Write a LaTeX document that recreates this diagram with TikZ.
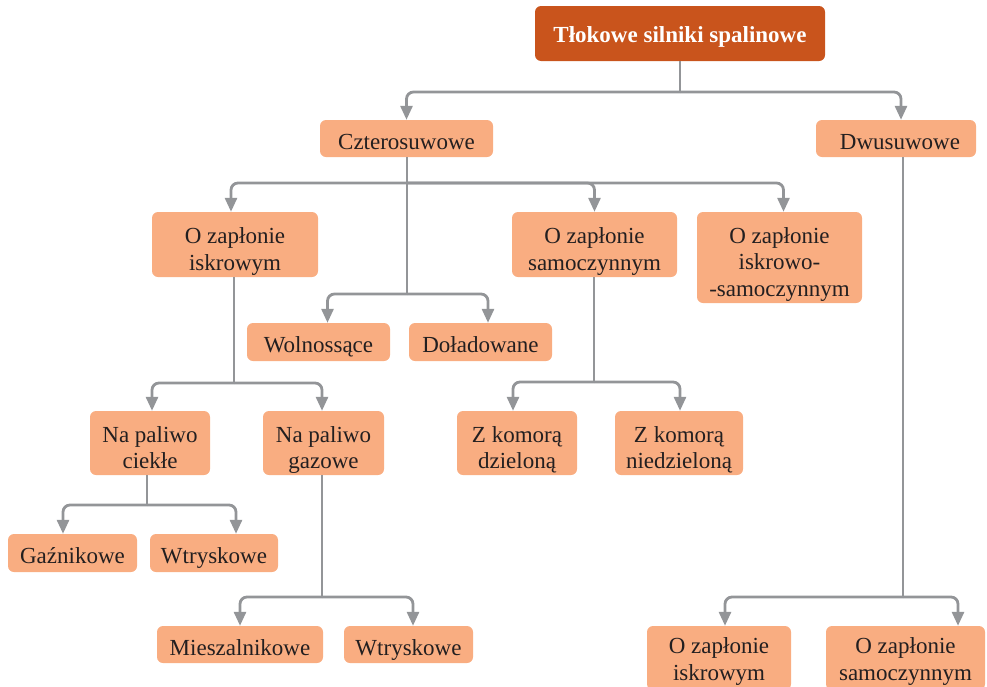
\documentclass[tikz,border=0pt]{standalone}
\usepackage{fontspec}
\setmainfont{Liberation Serif}
\usetikzlibrary{arrows.meta}
\definecolor{boxfill}{RGB}{249,173,129}
\definecolor{rootfill}{RGB}{201,84,28}
\definecolor{txt}{RGB}{35,31,32}
\definecolor{conn}{RGB}{147,149,152}
\newcommand{\boxlines}[1]{\begin{tabular}[b]{@{}c@{}}#1\end{tabular}}
\tikzset{
  box/.style={draw=none, fill=boxfill, rounded corners=6pt, text=txt,
    font=\fontsize{23}{26.5}\selectfont, inner sep=0pt, text depth=0pt},
  oneline/.style={box, text height=21pt},
  twolines/.style={box, text height=51pt},
  bottomlines/.style={box, text height=44pt},
  threelines/.style={box, text height=77pt},
  rootbox/.style={draw=none, fill=rootfill, rounded corners=6pt, text=white,
    font=\fontsize{23}{27}\selectfont\bfseries, inner sep=0pt, text depth=0pt, text height=18.4pt},
  line/.style={draw=conn, line width=2.8pt},
  arr/.style={draw=conn, line width=2.8pt, rounded corners=7pt,
    -{Triangle[length=14pt,width=12pt]}}
}
\begin{document}
\begin{tikzpicture}[x=1pt,y=-1pt]
\useasboundingbox (0,0) rectangle (987,686);
\clip (0,0) rectangle (987,686);
% nodes
\node[rootbox, minimum width=290pt, minimum height=55pt] (root) at (680,33.5) {Tłokowe silniki spalinowe};
\node[oneline, minimum width=173pt, minimum height=37pt] (cz) at (406.5,138.5) {Czterosuwowe};
\node[oneline, minimum width=160pt, minimum height=37pt] (dw) at (896,138.5) {\hspace*{8pt}Dwusuwowe};
\node[twolines, minimum width=166pt, minimum height=65pt] (oi) at (235,244.5) {\boxlines{O zapłonie\\iskrowym}};
\node[twolines, minimum width=165pt, minimum height=65pt] (os) at (594.5,244.5) {\boxlines{O zapłonie\\samoczynnym}};
\node[threelines, minimum width=165pt, minimum height=91pt] (ois) at (779.5,257.5) {\boxlines{O zapłonie\\iskrowo-\\-samoczynnym}};
\node[oneline, minimum width=143pt, minimum height=38pt] (wo) at (318.5,342) {Wolnossące};
\node[oneline, minimum width=143pt, minimum height=38pt] (do) at (480.5,342) {Doładowane};
\node[twolines, minimum width=120pt, minimum height=64pt] (npc) at (150,443) {\boxlines{Na paliwo\\ciekłe}};
\node[twolines, minimum width=121pt, minimum height=64pt] (npg) at (323.5,443) {\boxlines{Na paliwo\\gazowe}};
\node[twolines, minimum width=120pt, minimum height=64pt] (zkd) at (517,443) {\boxlines{Z komorą\\dzieloną}};
\node[twolines, minimum width=128pt, minimum height=64pt] (zkn) at (679,443) {\boxlines{Z komorą\\niedzieloną}};
\node[oneline, minimum width=129pt, minimum height=38pt] (ga) at (72.5,553) {Gaźnikowe};
\node[oneline, minimum width=128pt, minimum height=38pt] (wt1) at (214,553) {Wtryskowe};
\node[oneline, minimum width=166pt, minimum height=37pt] (mi) at (240,644.5) {Mieszalnikowe};
\node[oneline, minimum width=129pt, minimum height=37pt] (wt2) at (408.5,644.5) {Wtryskowe};
\node[bottomlines, minimum width=144pt, minimum height=64pt] (bi) at (719,658) {\boxlines{O zapłonie\\iskrowym}};
\node[bottomlines, minimum width=159pt, minimum height=64pt] (bs) at (905.5,658) {\boxlines{O zapłonie\\samoczynnym}};
% junctions
\coordinate (j1) at (680,92);
\coordinate (j2) at (407,183);
\coordinate (j3) at (407,294);
\coordinate (j4) at (234,383);
\coordinate (j5) at (594,382);
\coordinate (j6) at (147,505);
\coordinate (j7) at (322,597);
\coordinate (j8) at (903,597);
% connectors
\draw[line] (root.south) -- (j1);
\draw[arr] (j1) -| (cz.north);
\draw[arr] (j1) -| ([xshift=5pt]dw.north);
\draw[line] (cz.south -| j2) -- (j3);
\draw[arr] (j2) -| ([xshift=-4pt]oi.north);
\draw[arr] (j2) -| (os.north);
\draw[arr] (j2) -| ([xshift=4pt]ois.north);
\draw[arr] (j3) -| ([xshift=9pt]wo.north);
\draw[arr] (j3) -| ([xshift=7.5pt]do.north);
\draw[line] (oi.south -| j4) -- (j4);
\draw[arr] (j4) -| ([xshift=2pt]npc.north);
\draw[arr] (j4) -| ([xshift=-1.5pt]npg.north);
\draw[line] (os.south -| j5) -- (j5);
\draw[arr] (j5) -| ([xshift=-4pt]zkd.north);
\draw[arr] (j5) -| ([xshift=1pt]zkn.north);
\draw[line] (npc.south -| j6) -- (j6);
\draw[arr] (j6) -| ([xshift=-9.5pt]ga.north);
\draw[arr] (j6) -| ([xshift=22pt]wt1.north);
\draw[line] (npg.south -| j7) -- (j7);
\draw[arr] (j7) -| (mi.north);
\draw[arr] (j7) -| ([xshift=4.5pt]wt2.north);
\draw[line] (dw.south -| j8) -- (j8);
\draw[arr] (j8) -| ([xshift=6pt]bi.north);
\draw[arr] (j8) -| ([xshift=52.5pt]bs.north);
\end{tikzpicture}
\end{document}
